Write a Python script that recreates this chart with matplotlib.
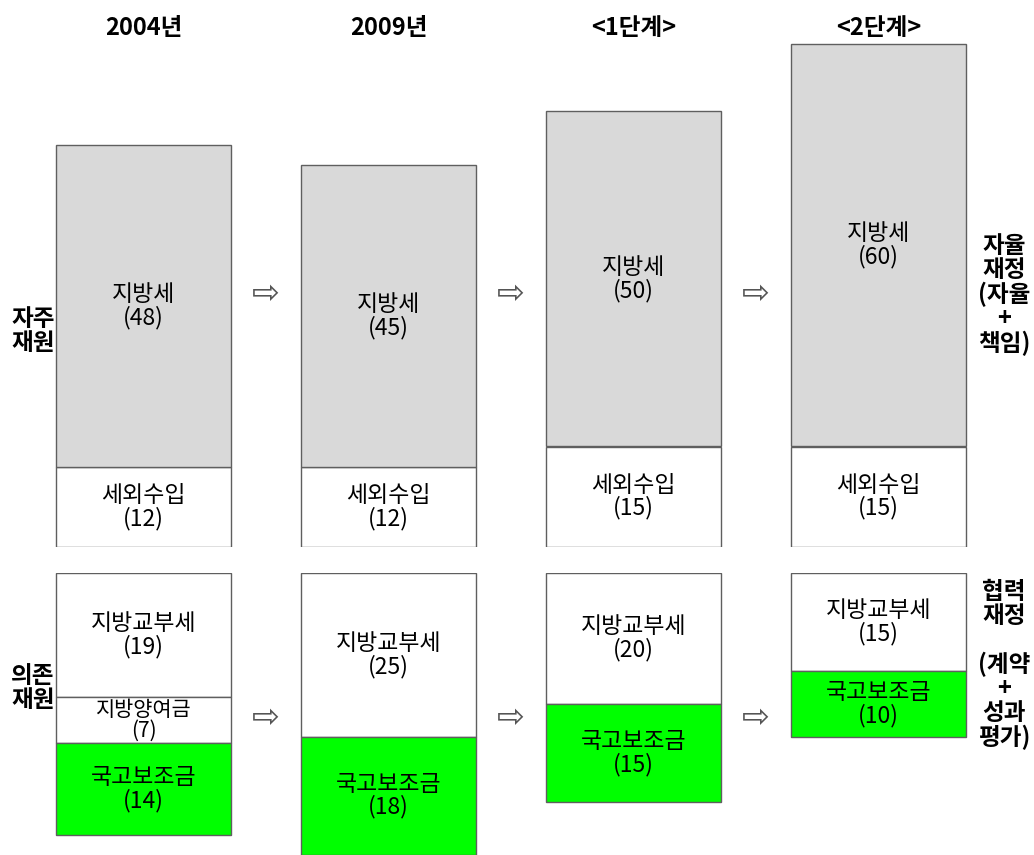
import matplotlib
matplotlib.use("Agg")
import matplotlib.pyplot as plt

plt.rcParams['font.family'] = ['Noto Sans CJK KR', 'DejaVu Sans']

# ---- data ----
periods = ["2004년", "2009년", "<1단계>", "<2단계>"]
local_tax = [48, 45, 50, 60]          # 지방세
non_tax = [12, 12, 15, 15]            # 세외수입
grant_tax = [19, 25, 20, 15]          # 지방교부세
transfer_tax = [7, 0, 0, 0]           # 지방양여금
subsidy = [14, 18, 15, 10]            # 국고보조금

upper_names = ["세외수입", "지방세"]
lower_names = ["지방교부세", "지방양여금", "국고보조금"]
left_labels = ["자주\n재원", "의존\n재원"]
right_labels = ["자율\n재정\n(자율\n+\n책임)", "협력\n재정\n\n(계약\n+\n성과\n평가)"]

GRAY = "#d9d9d9"
GREEN = "#00ff00"
EDGE = "#5f5f5f"

W, H = 1034, 855
fig = plt.figure(figsize=(W / 100, H / 100), dpi=100)

# pixel layout helpers
col_pitch = 245.0
col0 = 143.5
xl = (-col0 / col_pitch, (W - col0) / col_pitch)
bar_w = 175 / col_pitch

up_base = 547
up_scale = 6.7
low_top = 573
low_scale = 6.55

ax_up = fig.add_axes([0, (H - up_base) / H, 1, up_base / H])
ax_up.set_xlim(*xl)
ax_up.set_ylim(0, up_base / up_scale)
ax_lo = fig.add_axes([0, 0, 1, (H - low_top) / H])
ax_lo.set_xlim(*xl)
ax_lo.set_ylim((H - low_top) / low_scale, 0)
for a in (ax_up, ax_lo):
    a.axis("off")

x = list(range(len(periods)))
fs = 16.5
ls = 0.98

# upper stacks
ax_up.bar(x, non_tax, width=bar_w, bottom=0, color="white", edgecolor=EDGE, linewidth=1.0)
ax_up.bar(x, local_tax, width=bar_w, bottom=non_tax, color=GRAY, edgecolor=EDGE, linewidth=1.0)
for i in x:
    ax_up.text(i, non_tax[i] / 2, f"{upper_names[0]}\n({non_tax[i]})", ha="center", va="center",
               fontsize=fs, linespacing=ls)
    ax_up.text(i, non_tax[i] + local_tax[i] / 2, f"{upper_names[1]}\n({local_tax[i]})", ha="center",
               va="center", fontsize=fs, linespacing=ls)

# lower stacks
series = [grant_tax, transfer_tax, subsidy]
colors = ["white", "white", GREEN]
bottom = [0] * len(periods)
for name, vals, c in zip(lower_names, series, colors):
    for i in x:
        if vals[i] > 0:
            ax_lo.bar(i, vals[i], width=bar_w, bottom=bottom[i], color=c, edgecolor=EDGE, linewidth=1.0)
            small = vals[i] < 10
            ax_lo.text(i, bottom[i] + vals[i] / 2, f"{name}\n({vals[i]})", ha="center", va="center",
                       fontsize=fs - 1.5 if small else fs, linespacing=0.9 if small else ls)
    bottom = [b + v for b, v in zip(bottom, vals)]

# headers
for i, p in enumerate(periods):
    fig.text((col0 + i * col_pitch) / W, 1 - 28 / H, p, ha="center", va="center",
             fontsize=17, fontweight="bold")

# arrows between columns
for i in range(len(periods) - 1):
    xa = (col0 + (i + 0.5) * col_pitch) / W
    for ya in (293, 717):
        fig.text(xa, 1 - ya / H, "⇨", ha="center", va="center", fontsize=24,
                 family="DejaVu Sans", color="#555555")

# side labels
side_kw = dict(ha="center", va="center", fontsize=17, fontweight="bold", linespacing=1.0)
fig.text(33 / W, 1 - 331 / H, left_labels[0], **side_kw)
fig.text(33 / W, 1 - 688 / H, left_labels[1], **side_kw)
fig.text(1004 / W, 1 - 295 / H, right_labels[0], **side_kw)
fig.text(1004 / W, 1 - 665 / H, right_labels[1], **side_kw)

fig.savefig("out.png", dpi=100, facecolor="white")
